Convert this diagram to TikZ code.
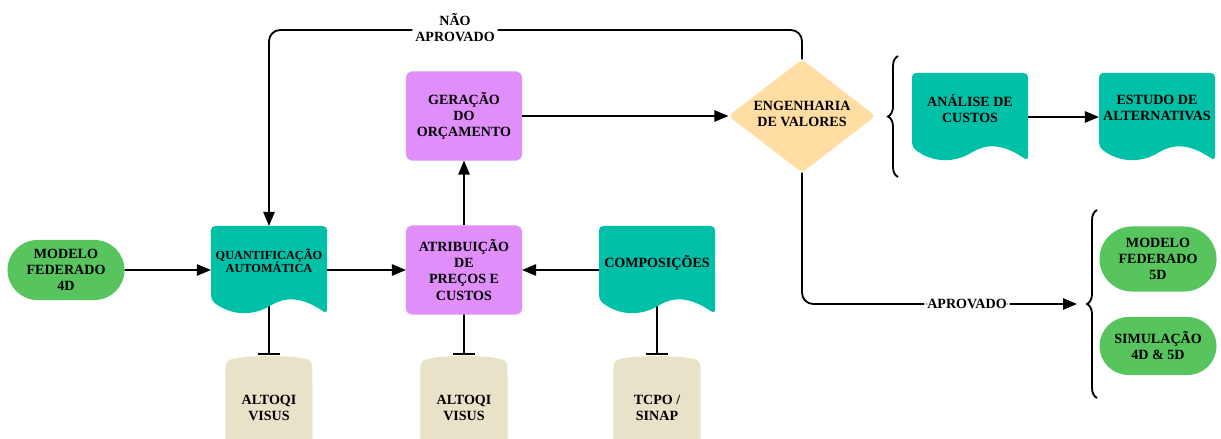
\documentclass[tikz,border=0pt]{standalone}
\usepackage{fontspec}
\setmainfont{Liberation Serif}
\usetikzlibrary{arrows.meta,shapes.geometric,shapes.misc,decorations.pathreplacing,backgrounds}
\definecolor{modgreen}{RGB}{87,196,94}
\definecolor{docteal}{RGB}{0,192,168}
\definecolor{procviolet}{RGB}{224,142,250}
\definecolor{decpeach}{RGB}{255,221,163}
\definecolor{dbbeige}{RGB}{232,226,201}

\begin{document}
\begin{tikzpicture}[x=0.025cm, y=-0.025cm, every node/.style={font=\bfseries\fontsize{10}{11.4}\selectfont, align=center, inner sep=0pt, outer sep=0pt}]
		\tikzstyle{model}=[rounded rectangle, fill=modgreen, minimum width=2.925cm]
		\tikzstyle{proc}=[rectangle, rounded corners=4pt, fill=procviolet, minimum width=2.9cm, minimum height=2.225cm]
		\tikzstyle{doc}=[rectangle, minimum width=2.9cm, minimum height=2.2cm, text depth=0.45cm]
		\tikzstyle{db}=[rectangle, minimum width=2.175cm, minimum height=2.65cm]
		\tikzstyle{decision}=[diamond, aspect=1.3, fill=decpeach, rounded corners=3pt, minimum width=3.675cm, minimum height=2.825cm, text depth=0.1cm]
		\tikzstyle{flow}=[-{Triangle[length=0.35cm,width=0.28cm]}, line width=1.3pt]
		\tikzstyle{link}=[-{Bar[width=0.55cm]}, line width=1.3pt]
		\tikzstyle{group}=[decorate, decoration={brace, amplitude=0.25cm}, line width=1.3pt]
		\useasboundingbox (0,0) rectangle (1221,439);
		
		\node[model, minimum height=1.5cm](mod-4d) at (66,270){MODELO\\FEDERADO\\4D};
		\node[doc, font=\bfseries\fontsize{8.75}{9.4}\selectfont](quant) at (269,270){QUANTIFICAÇÃO\\AUTOMÁTICA};
		\node[proc](atrib) at (464,270){ATRIBUIÇÃO\\DE\\PREÇOS E\\CUSTOS};
		\node[proc](orc) at (464,116){GERAÇÃO\\DO\\ORÇAMENTO};
		\node[doc](comp) at (657,270){COMPOSIÇÕES};
		\node[decision](eng) at (802,116){ENGENHARIA\\DE VALORES};
		\node[doc](analise) at (970,117){ANÁLISE DE\\CUSTOS};
		\node[doc](estudo) at (1157,117){ESTUDO DE\\ALTERNATIVAS};
		\node[model, minimum height=1.625cm](mod-5d) at (1158,259){MODELO\\FEDERADO\\5D};
		\node[model, minimum height=1.45cm](sim) at (1158,346){SIMULAÇÃO\\4D \& 5D};
		
		\foreach \i/\x/\txt in {1/269/{ALTOQI\\VISUS}, 2/464/{ALTOQI\\VISUS}, 3/657/{TCPO /\\SINAP}}
		\node[db](db-\i) at (\x,408){\txt};
		
		\draw[group] (898,177) -- (898,56);
		\draw[group] (1097,398) -- (1097,210);
		\coordinate (sel) at (1077,304);
		
		\begin{scope}[on background layer]
		\foreach \n in {db-1, db-2, db-3}
		\fill[dbbeige, rounded corners=4pt] (\n.north west) ++(0,6) .. controls +(20,-6) and +(-20,-6) .. ++(87,0) -- (\n.south east) -- (\n.south west) -- cycle;
		\foreach \a/\b in {quant/db-1, atrib/db-2, comp/db-3}
		\path[link] (\a.center) edge (\b.north);
		\foreach \n in {quant, comp, analise, estudo}
		\fill[docteal, rounded corners=3pt] (\n.south east) .. controls +(-20,-14) and +(18,-8) .. ++(-54,-10) .. controls +(-20,12) and +(20,16) .. ++(-62,-4) -- (\n.north west) -- (\n.north east) -- cycle;
		\end{scope}
		
		\path[flow] (mod-4d) edge (quant)
		(quant) edge (atrib)
		(comp) edge (atrib)
		(atrib) edge (orc)
		(orc) edge (eng)
		(analise) edge (estudo);
		
		\draw[flow, rounded corners=8pt] (eng.north) |- (455,30) node[fill=white, inner xsep=2pt, yshift=0.05cm]{NÃO\\APROVADO} -| (quant.north);
		\draw[flow, rounded corners=8pt] (eng.south) |- node[pos=0.8, fill=white, inner xsep=2pt]{APROVADO} (sel);
		\end{tikzpicture}
\end{document}
